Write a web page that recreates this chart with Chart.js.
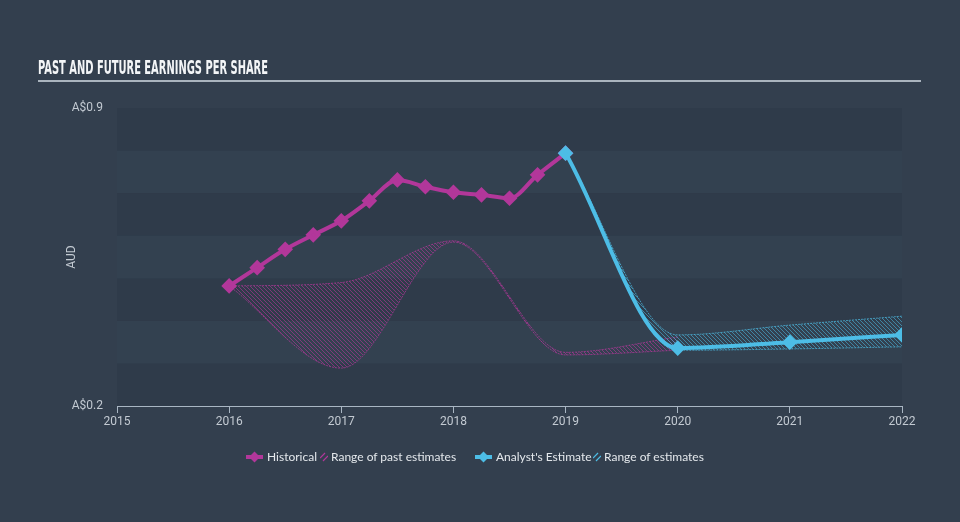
<!DOCTYPE html>
<html><head><meta charset="utf-8">
<script src="https://cdn.jsdelivr.net/npm/chart.js@4"></script>
<style>
html,body{margin:0;padding:0;background:#333f4e;width:960px;height:522px;overflow:hidden;}
#wrap{position:relative;width:960px;height:522px;}
#title{position:absolute;left:38px;top:58px;font-family:"Liberation Sans Narrow","DejaVu Sans Condensed","DejaVu Sans",sans-serif;font-weight:bold;font-size:19px;line-height:19px;color:#f3f5f7;white-space:nowrap;transform-origin:0 0;}
#rule{position:absolute;left:38px;top:80px;width:883px;height:2px;background:#aab4be;}
#c{position:absolute;left:0;top:0;}
.lg{position:absolute;top:450px;font-family:Lato,"Open Sans",sans-serif;font-size:12px;line-height:14px;color:#e4e8ec;white-space:nowrap;}
.ic{position:absolute;}
</style></head>
<body><div id="wrap">
<canvas id="c" width="960" height="522"></canvas>
<div id="title">PAST AND FUTURE EARNINGS PER SHARE</div>
<div id="rule"></div>
<svg class="ic" style="left:246px;top:451px" width="17" height="12"><line x1="0" y1="6" x2="17" y2="6" stroke="#b2379a" stroke-width="4"/><polygon points="8.5,0.5 14,6 8.5,11.5 3,6" fill="#b2379a"/></svg>
<span class="lg" style="left:267px">Historical</span>
<svg class="ic" style="left:320px;top:452px" width="8" height="10"><line x1="0" y1="6" x2="5" y2="1" stroke="#b2379a" stroke-width="1.2"/><line x1="3" y1="9" x2="8" y2="4" stroke="#b2379a" stroke-width="1.2"/></svg>
<span class="lg" style="left:331px">Range of past estimates</span>
<svg class="ic" style="left:475px;top:451px" width="17" height="12"><line x1="0" y1="6" x2="17" y2="6" stroke="#4dbde6" stroke-width="4"/><polygon points="8.5,0.5 14,6 8.5,11.5 3,6" fill="#4dbde6"/></svg>
<span class="lg" style="left:496px">Analyst's Estimate</span>
<svg class="ic" style="left:593px;top:452px" width="8" height="10"><line x1="0" y1="6" x2="5" y2="1" stroke="#4dbde6" stroke-width="1.2"/><line x1="3" y1="9" x2="8" y2="4" stroke="#4dbde6" stroke-width="1.2"/></svg>
<span class="lg" style="left:604px">Range of estimates</span>
</div>
<script>
// ---- data ----
const histX = [2016, 2016.25, 2016.5, 2016.75, 2017, 2017.25, 2017.5, 2017.75, 2018, 2018.25, 2018.5, 2018.75, 2019];
const histY = [0.482, 0.525, 0.568, 0.602, 0.635, 0.682, 0.731, 0.715, 0.702, 0.696, 0.688, 0.743, 0.794];
const estX = [2019, 2020, 2021, 2022];
const estY = [0.794, 0.336, 0.350, 0.367];
const pastRangeX = [2016, 2017, 2018, 2019, 2020];
const pastLow  = [0.482, 0.289, 0.585, 0.320, 0.331];
const pastHigh = [0.482, 0.490, 0.588, 0.326, 0.362];
const estRangeX = [2019, 2020, 2021, 2022];
const estLow  = [0.794, 0.331, 0.334, 0.339];
const estHigh = [0.794, 0.367, 0.390, 0.411];
const xTickYears = [2015, 2016, 2017, 2018, 2019, 2020, 2021, 2022];
const yLabelValues = [0.2, 0.9];
const yUnitPrefix = 'A$';
const yAxisTitle = 'AUD';

// ---- styling ----
const PINK = '#b2379a', BLUE = '#4dbde6';
const BAND_DARK = '#2f3b4a', BAND_LIGHT = '#334150';
const TICK_COLOR = '#c3cad2', AXIS_COLOR = '#a9b6c3';

const tEl = document.getElementById('title');
const w = tEl.getBoundingClientRect().width;
tEl.style.transform = 'scaleX(' + (230 / w) + ')';

const ctx = document.getElementById('c').getContext('2d');
function hatch(color) {
  const c = document.createElement('canvas'); c.width = 4; c.height = 4;
  const x = c.getContext('2d'); x.strokeStyle = color; x.lineWidth = 1;
  x.beginPath();
  x.moveTo(0, 0); x.lineTo(4, 4);
  x.moveTo(-1, 3); x.lineTo(1, 5);
  x.moveTo(3, -1); x.lineTo(5, 1);
  x.stroke();
  return ctx.createPattern(c, 'repeat');
}
const pts = (xs, ys) => xs.map((v, i) => ({x: v, y: ys[i]}));

const bandPlugin = {
  id: 'bands',
  beforeDraw(chart) {
    const {ctx, chartArea: a, scales: {y}} = chart;
    const t = y.ticks;
    ctx.save();
    for (let i = 0; i < t.length - 1; i++) {
      const y0 = y.getPixelForValue(t[i].value), y1 = y.getPixelForValue(t[i + 1].value);
      ctx.fillStyle = ((t.length - 2 - i) % 2 === 0) ? BAND_DARK : BAND_LIGHT;
      ctx.fillRect(a.left, y1, a.right - a.left, y0 - y1);
    }
    ctx.restore();
  }
};

const lineBase = {cubicInterpolationMode: 'monotone', pointStyle: 'rectRot', pointRadius: 5, borderWidth: 4, fill: false};
const edgeBase = {cubicInterpolationMode: 'monotone', pointRadius: 0, borderWidth: 1, borderDash: [2, 1]};

new Chart(ctx, {
  type: 'line',
  data: {
    datasets: [
      Object.assign({label: 'Historical', data: pts(histX, histY), borderColor: PINK, backgroundColor: PINK, pointBackgroundColor: PINK, pointBorderColor: PINK, order: 1}, lineBase),
      Object.assign({label: "Analyst's Estimate", data: pts(estX, estY), borderColor: BLUE, backgroundColor: BLUE, pointBackgroundColor: BLUE, pointBorderColor: BLUE, order: 0}, lineBase),
      Object.assign({label: 'pastLow', data: pts(pastRangeX, pastLow), borderColor: 'rgba(178,55,154,0.7)', fill: false, order: 3}, edgeBase),
      Object.assign({label: 'pastHigh', data: pts(pastRangeX, pastHigh), borderColor: 'rgba(178,55,154,0.7)', backgroundColor: hatch('rgba(178,55,154,0.6)'), fill: {target: 2}, order: 3}, edgeBase),
      Object.assign({label: 'estLow', data: pts(estRangeX, estLow), borderColor: 'rgba(77,189,230,0.7)', fill: false, order: 2}, edgeBase),
      Object.assign({label: 'estHigh', data: pts(estRangeX, estHigh), borderColor: 'rgba(77,189,230,0.7)', backgroundColor: hatch('rgba(77,189,230,0.55)'), fill: {target: 4}, order: 2}, edgeBase)
    ]
  },
  options: {
    responsive: false,
    animation: false,
    layout: {padding: {left: 61, right: 58, top: 108, bottom: 86}},
    plugins: {legend: {display: false}, tooltip: {enabled: false}},
    scales: {
      x: {
        type: 'linear', min: xTickYears[0], max: xTickYears[xTickYears.length - 1],
        afterBuildTicks: s => { s.ticks = xTickYears.map(v => ({value: v})); },
        afterFit: s => { s.height = 30; },
        ticks: {color: TICK_COLOR, font: {family: 'Roboto', size: 12}, padding: 2, callback: v => String(v), maxRotation: 0, autoSkip: false},
        grid: {display: true, drawOnChartArea: false, drawTicks: true, tickLength: 7, color: AXIS_COLOR, tickColor: AXIS_COLOR},
        border: {display: true, color: AXIS_COLOR, width: 1}
      },
      y: {
        type: 'linear', min: 0.2, max: 0.9,
        ticks: {stepSize: 0.1, color: TICK_COLOR, font: {family: 'Roboto', size: 12}, padding: 14,
          callback: v => yLabelValues.some(l => Math.abs(l - v) < 1e-6) ? yUnitPrefix + v.toFixed(1) : ''},
        afterFit: s => { s.width = 56; },
        grid: {display: false, drawTicks: false},
        border: {display: false},
        title: {display: true, text: yAxisTitle, color: TICK_COLOR, font: {family: 'Roboto', size: 12}, padding: {top: 4, bottom: 0}}
      }
    }
  },
  plugins: [bandPlugin]
});
</script>
</body></html>
